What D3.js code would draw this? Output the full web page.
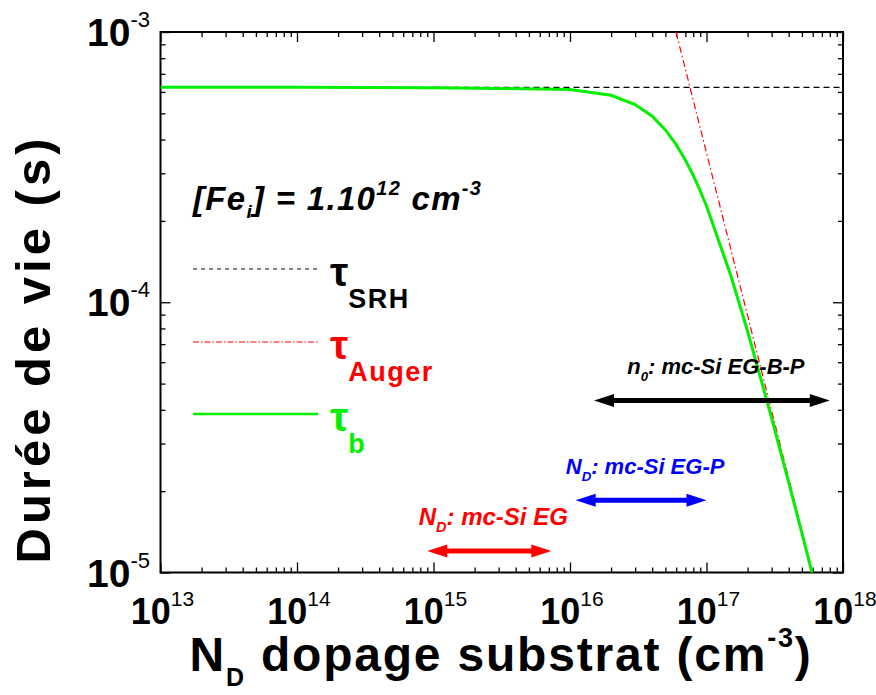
<!DOCTYPE html>
<html><head><meta charset="utf-8">
<script src="https://cdn.jsdelivr.net/npm/d3@7"></script>
<style>body{margin:0;background:#fff;} svg{display:block;font-family:"Liberation Sans",Arial,Helvetica,sans-serif;}</style>
</head><body><svg id="c" width="876" height="695"></svg>
<script>
// ---- data ----
const xTickExponents = [13, 14, 15, 16, 17, 18];
const yTickExponents = [-3, -4, -5];
const dopingN = [1e13, 1e14, 1e15, 3e15, 1e16, 2e16, 3e16, 4e16, 5e16, 6e16, 7e16, 8e16, 9e16, 1e17, 1.5e17, 2e17, 3e17, 4e17, 5e17, 6e17];
const tauBulk = [6.24e-4, 6.24e-4, 6.22e-4, 6.18e-4, 6.13e-4, 5.83e-4, 5.39e-4, 4.88e-4, 4.34e-4, 3.83e-4, 3.36e-4, 2.95e-4, 2.58e-4, 2.27e-4, 1.265e-4, 7.81e-5, 3.73e-5, 2.155e-5, 1.40e-5, 9.75e-6];
const srhN = [1e15, 1e18];
const tauSRH = [6.24e-4, 6.24e-4];
const augerN = [5.98e16, 6.0e17];
const tauAuger = [1.0e-3, 9.9e-6];
const legendNames = ["SRH", "Auger", "b"];
const legendColors = ["#000000", "#ff0000", "#00f000"];
const rangeFrom = [1.5e16, 1.1e16, 9.0e14];
const rangeTo = [8.0e17, 1.0e17, 7.3e15];
const rangeTau = [4.33e-5, 1.85e-5, 1.2e-5];
const rangeColors = ["#000000", "#0000ff", "#ff0000"];
const rangeMain = ["n", "N", "N"];
const rangeSub = ["0", "D", "D"];
const rangeRest = [": mc-Si EG-B-P", ": mc-Si EG-P", ": mc-Si EG"];
const rangeFont = [22, 22, 24];

// ---- layout ----
const svg = d3.select("#c");
const L = 160.5, R = 843, T = 32, B = 572.5;
const x = d3.scaleLog().domain([1e13, 1e18]).range([L, R]);
const y = d3.scaleLog().domain([1e-5, 1e-3]).range([B, T]);

svg.append("defs").append("clipPath").attr("id", "plotclip")
  .append("rect").attr("x", L).attr("y", T).attr("width", R - L).attr("height", B - T);

function minorVals(lo, hi) {
  const out = [];
  for (let e = lo; e < hi; e++) for (let m = 2; m <= 9; m++) out.push(m * Math.pow(10, e));
  return out;
}
const xMaj = xTickExponents.map(e => Math.pow(10, e));
const yMaj = yTickExponents.map(e => Math.pow(10, e));
const xMin = minorVals(13, 18);
const yMin = minorVals(-5, -3);

function addAxis(axisFn, scale, vals, size, transform) {
  const g = svg.append("g").attr("transform", transform)
    .call(axisFn(scale).tickValues(vals).tickSize(-size).tickFormat(""));
  g.select(".domain").remove();
  g.selectAll("line").attr("stroke", "#000").attr("stroke-width", 1.3);
}
addAxis(d3.axisBottom, x, xMaj, 10, `translate(0,${B})`);
addAxis(d3.axisBottom, x, xMin, 5, `translate(0,${B})`);
addAxis(d3.axisTop, x, xMaj, 10, `translate(0,${T})`);
addAxis(d3.axisTop, x, xMin, 5, `translate(0,${T})`);
addAxis(d3.axisLeft, y, yMaj, 10, `translate(${L},0)`);
addAxis(d3.axisLeft, y, yMin, 5, `translate(${L},0)`);
addAxis(d3.axisRight, y, yMaj, 10, `translate(${R},0)`);
addAxis(d3.axisRight, y, yMin, 5, `translate(${R},0)`);

svg.append("rect").attr("x", L).attr("y", T).attr("width", R - L).attr("height", B - T)
  .attr("fill", "none").attr("stroke", "#000").attr("stroke-width", 2);

// tick labels
xTickExponents.forEach(e => {
  const t = svg.append("text").attr("x", x(Math.pow(10, e)) + 2).attr("y", 624)
    .attr("text-anchor", "middle").attr("font-weight", "bold").attr("font-size", 36);
  t.append("tspan").text("10");
  t.append("tspan").attr("dy", -18).attr("font-size", 21).attr("font-weight", "normal").text(e);
});
yTickExponents.forEach(e => {
  const t = svg.append("text").attr("x", 150).attr("y", y(Math.pow(10, e)) + 14)
    .attr("text-anchor", "end").attr("font-weight", "bold").attr("font-size", 39);
  t.append("tspan").text("10");
  t.append("tspan").attr("dy", -19).attr("font-size", 22).attr("font-weight", "normal").text(e);
});

// axis titles
const xt = svg.append("text").attr("x", 501).attr("y", 671).attr("text-anchor", "middle")
  .attr("font-weight", "bold").attr("font-size", 48).attr("letter-spacing", 1.8);
xt.append("tspan").text("N");
xt.append("tspan").attr("dy", 15).attr("font-size", 25).text("D");
xt.append("tspan").attr("dy", -15).text(" dopage substrat (cm");
xt.append("tspan").attr("dy", -24).attr("font-size", 27).text("-3");
xt.append("tspan").attr("dy", 24).text(")");

svg.append("text").attr("transform", "translate(50,349) rotate(-90)").attr("text-anchor", "middle")
  .attr("font-weight", "bold").attr("font-size", 49).attr("letter-spacing", 4).text("Durée de vie (s)");

// curves
const line = d3.line().x(d => x(d[0])).y(d => y(d[1]));
const plot = svg.append("g").attr("clip-path", "url(#plotclip)");
plot.append("path").attr("d", line(d3.zip(srhN, tauSRH)))
  .attr("fill", "none").attr("stroke", "#000").attr("stroke-width", 1.2).attr("stroke-dasharray", "6,4");
plot.append("path").attr("d", line(d3.zip(augerN, tauAuger)))
  .attr("fill", "none").attr("stroke", "#ff0000").attr("stroke-width", 1.2).attr("stroke-dasharray", "7,3,1.5,3");
plot.append("path").attr("d", line(d3.zip(dopingN, tauBulk)))
  .attr("fill", "none").attr("stroke", "#00f000").attr("stroke-width", 3);

// range arrows
rangeFrom.forEach((f, i) => {
  const x1 = x(f), x2 = x(rangeTo[i]), yy = y(rangeTau[i]);
  const hl = 20, hh = 6.5, sw = 2.5;
  const p = d3.path();
  p.moveTo(x1, yy); p.lineTo(x1 + hl, yy - hh); p.lineTo(x1 + hl, yy - sw);
  p.lineTo(x2 - hl, yy - sw); p.lineTo(x2 - hl, yy - hh); p.lineTo(x2, yy);
  p.lineTo(x2 - hl, yy + hh); p.lineTo(x2 - hl, yy + sw); p.lineTo(x1 + hl, yy + sw);
  p.lineTo(x1 + hl, yy + hh); p.closePath();
  svg.append("path").attr("d", p.toString()).attr("fill", rangeColors[i]);
  const t = svg.append("text").attr("x", (x1 + x2) / 2 + 4).attr("y", yy - 26)
    .attr("text-anchor", "middle").attr("font-weight", "bold").attr("font-style", "italic")
    .attr("font-size", rangeFont[i]).attr("fill", rangeColors[i]);
  t.append("tspan").text(rangeMain[i]);
  t.append("tspan").attr("dy", 7).attr("font-size", rangeFont[i] * 0.6).text(rangeSub[i]);
  t.append("tspan").attr("dy", -7).text(rangeRest[i]);
});

// Fe annotation
const fe = svg.append("text").attr("x", 193).attr("y", 210).attr("font-weight", "bold")
  .attr("font-style", "italic").attr("font-size", 33).attr("letter-spacing", 1.3);
fe.append("tspan").text("[Fe");
fe.append("tspan").attr("dy", 8).attr("font-size", 19).text("i");
fe.append("tspan").attr("dy", -8).text("] = 1.10");
fe.append("tspan").attr("dy", -15).attr("font-size", 20).text("12");
fe.append("tspan").attr("dy", 15).text(" cm");
fe.append("tspan").attr("dy", -15).attr("font-size", 20).text("-3");

// legend
const legY = [269, 342, 414];
const legDash = ["4,4", "6,2,1.5,2", null];
const legW = [1.2, 1.2, 2.5];
legendNames.forEach((n, i) => {
  svg.append("line").attr("x1", 193).attr("x2", 318).attr("y1", legY[i]).attr("y2", legY[i])
    .attr("stroke", legendColors[i]).attr("stroke-width", legW[i])
    .attr("stroke-dasharray", legDash[i]);
  const t = svg.append("text").attr("x", 330).attr("y", legY[i] + 17).attr("font-weight", "bold")
    .attr("font-size", 41).attr("fill", legendColors[i]);
  t.append("tspan").text("τ");
  t.append("tspan").attr("dy", 22).attr("font-size", 27).attr("letter-spacing", 1.5).text(n);
});
</script></body></html>
